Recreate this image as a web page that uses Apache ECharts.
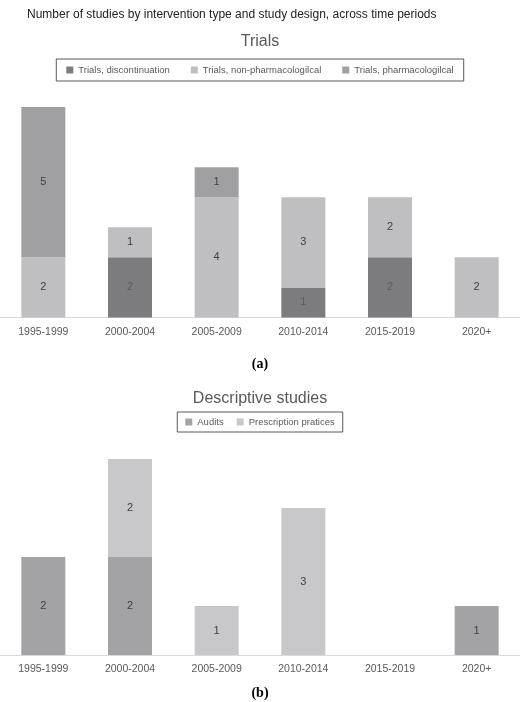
<!DOCTYPE html>
<html>
  <head>
    <meta charset="utf-8" />
    <title>Studies by intervention type</title>
    <script src="https://cdn.jsdelivr.net/npm/echarts@6.0.0/dist/echarts.min.js"></script>
  </head>
  <body style="margin: 0; padding: 0; border: 0; background: #fff">
    <div id="main" style="width: 520px; height: 702px"></div>
    <script type="text/javascript">
      var periods = ["1995-1999", "2000-2004", "2005-2009", "2010-2014", "2015-2019", "2020+"];

      // (a) Trials
      var trialsDiscontinuation = [null, 2, null, 1, 2, null];
      var trialsNonPharma = [2, 1, 4, 3, 2, 2];
      var trialsPharma = [5, null, 1, null, null, null];

      // (b) Descriptive studies
      var audits = [2, 2, null, null, null, 1];
      var prescription = [null, 2, 1, 3, null, null];

      var font = "Liberation Sans";
      var myChart = echarts.init(document.getElementById("main"));

      function bar(name, data, color, grid, labelColor) {
        return {
          name: name,
          type: "bar",
          stack: "s" + grid,
          xAxisIndex: grid,
          yAxisIndex: grid,
          data: data,
          barWidth: 44,
          itemStyle: { color: color },
          label: {
            show: true,
            position: "inside",
            color: labelColor || "#404040",
            fontFamily: font,
            fontSize: 11,
          },
        };
      }

      var axisX = function (grid) {
        return {
          type: "category",
          gridIndex: grid,
          data: periods,
          axisTick: { show: false },
          axisLine: { lineStyle: { color: "#d9d9d9", width: 1 } },
          axisLabel: { color: "#595959", fontFamily: font, fontSize: 10.5, margin: 9 },
        };
      };
      var axisY = function (grid, max) {
        return {
          type: "value",
          gridIndex: grid,
          min: 0,
          max: max,
          show: false,
          splitLine: { show: false },
        };
      };

      var legendCommon = {
        itemWidth: 7,
        itemHeight: 7,
        itemGap: 21,
        icon: "rect",
        borderColor: "#595959",
        borderWidth: 1,
        textStyle: { color: "#595959", fontFamily: font, fontSize: 9.5 },
      };

      myChart.setOption({
        animation: false,
        title: [
          {
            text: "Number of studies by intervention type and study design, across time periods",
            left: 22,
            top: 4,
            textStyle: { color: "#222", fontFamily: font, fontSize: 12, fontWeight: "normal" },
          },
          {
            text: "Trials",
            left: "center",
            top: 29,
            textStyle: { color: "#595959", fontFamily: font, fontSize: 16, fontWeight: "normal" },
          },
          {
            text: "Descriptive studies",
            left: "center",
            top: 386,
            textStyle: { color: "#595959", fontFamily: font, fontSize: 16, fontWeight: "normal" },
          },
          {
            text: "(a)",
            left: "center",
            top: 352,
            textStyle: { color: "#000", fontFamily: "Liberation Serif", fontSize: 14, fontWeight: "bold" },
          },
          {
            text: "(b)",
            left: "center",
            top: 681,
            textStyle: { color: "#000", fontFamily: "Liberation Serif", fontSize: 14, fontWeight: "bold" },
          },
        ],
        legend: [
          Object.assign({}, legendCommon, {
            data: ["Trials, discontinuation", "Trials, non-pharmacologilcal", "Trials, pharmacologilcal"],
            left: "center",
            top: 59,
            padding: [6, 10],
          }),
          Object.assign({}, legendCommon, {
            data: ["Audits", "Prescription pratices"],
            left: "center",
            top: 412,
            itemGap: 13,
            padding: [5, 8],
          }),
        ],
        grid: [
          { left: 0, right: 0, top: 107, bottom: 384.5 },
          { left: 0, right: 0, top: 459, bottom: 47 },
        ],
        xAxis: [axisX(0), axisX(1)],
        yAxis: [axisY(0, 7), axisY(1, 4)],
        series: [
          bar("Trials, discontinuation", trialsDiscontinuation, "#7c7c7e", 0, "#5e5e60"),
          bar("Trials, non-pharmacologilcal", trialsNonPharma, "#bfbfc1", 0),
          bar("Trials, pharmacologilcal", trialsPharma, "#a0a0a3", 0),
          bar("Audits", audits, "#a3a3a6", 1),
          bar("Prescription pratices", prescription, "#c8c8ca", 1),
        ],
      });
    </script>
  </body>
</html>
